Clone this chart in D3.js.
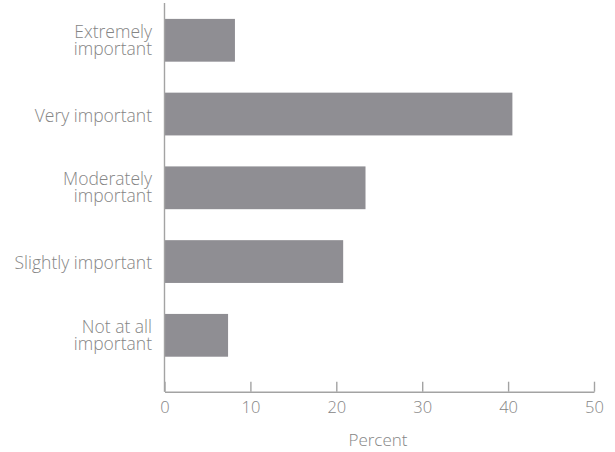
<!DOCTYPE html>
<html>
<head>
<meta charset="utf-8">
<script src="https://cdn.jsdelivr.net/npm/d3@7"></script>
<style>
  html, body { margin: 0; padding: 0; background: #fff; }
  svg { display: block; }
  text { font-family: "Open Sans", "Liberation Sans", sans-serif; font-weight: 300; fill: #858585; }
</style>
</head>
<body>
<svg id="chart" width="615" height="452"></svg>
<script>
// Survey responses: how important, share of respondents (percent)
const categories = [
  ["Extremely", "important"],
  ["Very important"],
  ["Moderately", "important"],
  ["Slightly important"],
  ["Not at all", "important"]
];
const values = [8.2, 40.5, 23.4, 20.8, 7.4];
const xTicks = [0, 10, 20, 30, 40, 50];
const xTitle = "Percent";

const svg = d3.select("#chart");
const keys = categories.map(c => c.join(" "));
const fontFamily = "\"Open Sans\", \"Liberation Sans\", sans-serif";

const x = d3.scaleLinear().domain([0, 50]).range([164.5, 594]);
const y = d3.scaleBand().domain(keys).range([3.4, 372.2])
  .paddingInner(0.42).paddingOuter(0.21);

const axisColor = "#a3a3a3";

// bars
svg.append("g").selectAll("rect")
  .data(values)
  .join("rect")
  .attr("x", x(0))
  .attr("y", (d, i) => y(keys[i]))
  .attr("width", d => x(d) - x(0))
  .attr("height", y.bandwidth())
  .attr("fill", "#8f8e93");

// x axis with upward ticks
const axisY = 391.7;
const xAxis = svg.append("g")
  .attr("transform", `translate(0,${axisY})`)
  .call(d3.axisBottom(x).tickValues(xTicks).tickSizeInner(-10).tickSizeOuter(0).tickPadding(10));
xAxis.select(".domain").attr("stroke", axisColor).attr("stroke-width", 1.4);
xAxis.selectAll(".tick line").attr("stroke", axisColor).attr("stroke-width", 1.4);
xAxis.selectAll(".tick text")
  .attr("font-size", 16.5)
  .attr("fill", "#858585")
  .attr("font-weight", 300)
  .attr("font-family", fontFamily);

// y axis line
svg.append("line")
  .attr("x1", x(0)).attr("x2", x(0))
  .attr("y1", 3).attr("y2", axisY)
  .attr("stroke", axisColor).attr("stroke-width", 1.4);

// category labels, right aligned, one text element per line
const lines = [];
categories.forEach((c, i) => {
  const mid = y(keys[i]) + y.bandwidth() / 2;
  c.forEach((t, j) => {
    lines.push({ t, yy: c.length === 1 ? mid + 7.5 : mid - 2.5 + j * 17 });
  });
});
svg.append("g").selectAll("text")
  .data(lines)
  .join("text")
  .attr("text-anchor", "end")
  .attr("font-size", 17.5)
  .attr("x", 152)
  .attr("y", d => d.yy)
  .text(d => d.t);

// x axis title
svg.append("text")
  .attr("x", 378)
  .attr("y", 446)
  .attr("text-anchor", "middle")
  .attr("font-size", 17)
  .text(xTitle);
</script>
</body>
</html>
